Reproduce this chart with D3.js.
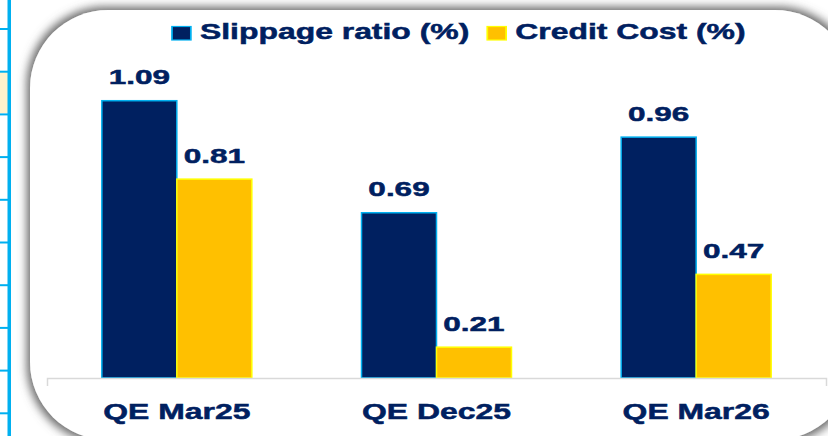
<!DOCTYPE html>
<html>
<head>
<meta charset="utf-8">
<script src="https://cdn.jsdelivr.net/npm/d3@7"></script>
<style>
  html, body { margin: 0; padding: 0; background: #fff; }
  svg { display: block; }
  text { font-family: 'Liberation Sans', Arial, sans-serif; font-weight: bold; fill: #002060; stroke: #002060; stroke-width: 0.5px; }
</style>
</head>
<body>
<div id="chart"></div>
<script>
// data
var categories = ['QE Mar25', 'QE Dec25', 'QE Mar26']
var seriesNames = ['Slippage ratio (%)', 'Credit Cost (%)']
var slippage = [1.09, 0.69, 0.96]
var creditCost = [0.81, 0.21, 0.47]
var yDomain = [0.1, 1.2]

var width = 828
var height = 436
var fills = ['#002060', '#ffc000']
var strokes = ['#00b0f0', '#ffff00']
var stretch = 1.45 // text looks horizontally stretched in the source

var svg = d3.select('#chart').append('svg')
  .attr('width', width)
  .attr('height', height)

// soft grey shadow round the panel
var defs = svg.append('defs')
var f = defs.append('filter').attr('id', 'shadow')
  .attr('x', '-10%').attr('y', '-10%').attr('width', '120%').attr('height', '120%')
f.append('feMorphology').attr('in', 'SourceAlpha').attr('operator', 'dilate').attr('radius', 3).attr('result', 'dil')
f.append('feGaussianBlur').attr('in', 'dil').attr('stdDeviation', 5).attr('result', 'blur')
f.append('feFlood').attr('flood-color', '#666')
f.append('feComposite').attr('in2', 'blur').attr('operator', 'in').attr('result', 'sh')
var merge = f.append('feMerge')
merge.append('feMergeNode').attr('in', 'sh')
merge.append('feMergeNode').attr('in', 'SourceGraphic')

// spreadsheet edge at the left
svg.append('rect')
  .attr('x', 0).attr('y', 72).attr('width', 8).attr('height', 41)
  .attr('fill', '#fff2cc')
svg.append('g').selectAll('line')
  .data(d3.range(10))
  .enter().append('line')
  .attr('x1', 0).attr('x2', 9)
  .attr('y1', function (i) { return 29 + i * 42.7 })
  .attr('y2', function (i) { return 29 + i * 42.7 })
  .attr('stroke', '#00b0f0')
  .attr('stroke-width', 2)
svg.append('rect')
  .attr('x', 7.5).attr('y', 0).attr('width', 3.5).attr('height', height)
  .attr('fill', '#00b0f0')

// panel
svg.append('rect')
  .attr('x', 30).attr('y', 10)
  .attr('width', 823).attr('height', 430)
  .attr('rx', 78).attr('ry', 78)
  .attr('fill', '#fff')
  .attr('filter', 'url(#shadow)')

// scales
var x0 = d3.scaleBand()
  .domain(categories)
  .range([47, 826])
  .paddingInner(0.4224)
  .paddingOuter(0.2112)

var x1 = d3.scaleBand()
  .domain(seriesNames)
  .range([0, x0.bandwidth()])

var y = d3.scaleLinear()
  .domain(yDomain)
  .range([378, 69.9])

var rows = categories.map(function (c, i) {
  return { cat: c, values: [slippage[i], creditCost[i]] }
})

// bars
var groups = svg.append('g').selectAll('g')
  .data(rows)
  .enter().append('g')
  .attr('transform', function (d) { return 'translate(' + x0(d.cat) + ',0)' })

groups.selectAll('rect')
  .data(function (d) {
    return d.values.map(function (v, k) { return { name: seriesNames[k], k: k, v: v } })
  })
  .enter().append('rect')
  .attr('x', function (d) { return x1(d.name) })
  .attr('y', function (d) { return y(d.v) })
  .attr('width', x1.bandwidth())
  .attr('height', function (d) { return y(yDomain[0]) - y(d.v) })
  .attr('fill', function (d) { return fills[d.k] })
  .attr('stroke', function (d) { return strokes[d.k] })
  .attr('stroke-width', 1.5)

// value labels
groups.selectAll('text')
  .data(function (d) {
    return d.values.map(function (v, k) { return { name: seriesNames[k], k: k, v: v } })
  })
  .enter().append('text')
  .attr('transform', function (d) {
    return 'translate(' + (x1(d.name) + x1.bandwidth() / 2) + ',' + (y(d.v) - 16.5) + ') scale(1.5,1)'
  })
  .attr('text-anchor', 'middle')
  .style('font-size', '21px')
  .text(function (d) { return d.v.toFixed(2) })

// category axis
var axis = svg.append('g')
  .attr('transform', 'translate(0,' + y(yDomain[0]) + ')')
  .call(d3.axisBottom(x0).tickSizeInner(0).tickSizeOuter(8))
axis.select('.domain')
  .attr('stroke', '#d9d9d9')
  .attr('stroke-width', 1.5)
axis.selectAll('.tick text')
  .attr('y', 41)
  .attr('dy', 0)
  .attr('transform', 'scale(' + stretch + ',1)')
  .style('font-size', '22px')
  .style('font-family', "'Liberation Sans', Arial, sans-serif")
  .style('font-weight', 'bold')
  .attr('fill', '#002060')

// legend
var legend = svg.append('g')
  .attr('transform', 'translate(172,0) scale(' + stretch + ',1)')
var lx = 0
seriesNames.forEach(function (name, k) {
  legend.append('rect')
    .attr('x', lx).attr('y', 26.5)
    .attr('width', 13).attr('height', 13.5)
    .attr('fill', fills[k])
    .attr('stroke', strokes[k])
    .attr('stroke-width', 1.2)
  var t = legend.append('text')
    .attr('x', lx + 19.3)
    .attr('y', 39.5)
    .style('font-size', '22px')
    .text(name)
  lx = lx + 19.3 + t.node().getComputedTextLength() + 12.4
})
</script>
</body>
</html>
